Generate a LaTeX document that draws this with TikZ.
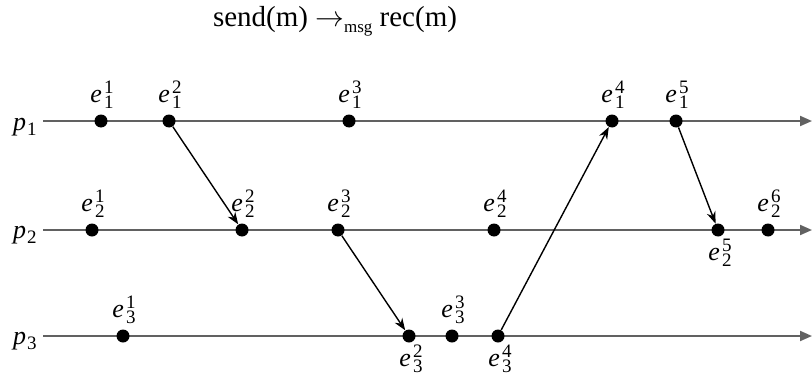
\documentclass[tikz,border=0pt]{standalone}
\usepackage{fontspec}
\setmainfont{Liberation Serif}
\usetikzlibrary{arrows.meta}

% event label e^k_i, scripts stacked after the e
\newcommand{\scr}{\fontsize{9.5}{10}\selectfont}
\newcommand{\ev}[2]{\textit{e}\kern1.2pt\rlap{\raisebox{4.5pt}{\scr #2}}\raisebox{-3pt}{\scr #1}}
\newcommand{\proclbl}[1]{\textit{p}\kern0.5pt\raisebox{-2.5pt}{\scr #1}}

\begin{document}
\begin{tikzpicture}[
  x=0.5pt, y=-0.5pt,
  font=\fontsize{13}{15}\selectfont,
  event/.style={
    circle, fill=black, inner sep=0pt, minimum size=6.5pt,
    label distance=3pt
  },
  every label/.style={inner sep=0pt, font=\fontsize{13}{15}\selectfont},
  up/.style={label={[xshift=0.5pt, yshift=2.5pt]above:#1}},
  down/.style={label={[xshift=1pt, yshift=-1pt]below:#1}},
  proc/.style={draw=black!62, line width=1pt, -{Triangle[length=6pt,width=5pt]}},
  msg/.style={draw=black, line width=0.7pt, -{Stealth[length=6pt,width=4.5pt]}},
  plabel/.style={anchor=east, inner sep=3pt},
]
\useasboundingbox (0,0) rectangle (812,385);

% Headline
\node[anchor=base, font=\fontsize{14.5}{17}\selectfont] (title) at (335,27)
  {send(m) $\rightarrow$\raisebox{-3pt}{\fontsize{8.5}{9}\selectfont msg} rec(m)};

% Processes
\node[plabel] (p1) at (43,127) {\proclbl{1}};
\node[plabel] (p2) at (43,235) {\proclbl{2}};
\node[plabel] (p3) at (43,341) {\proclbl{3}};
\coordinate (end1) at (812,121);
\coordinate (end2) at (812,230);
\coordinate (end3) at (812,336);
\draw[proc] (p1.east |- end1) -- (end1);
\draw[proc] (p2.east |- end2) -- (end2);
\draw[proc] (p3.east |- end3) -- (end3);

% Events on p1
\node[event, up=\ev{1}{1}] (e11) at (101,121) {};
\node[event, up=\ev{1}{2}] (e12) at (169,121) {};
\node[event, up=\ev{1}{3}] (e13) at (349,121) {};
\node[event, up=\ev{1}{4}] (e14) at (612,121) {};
\node[event, up=\ev{1}{5}] (e15) at (676,121) {};

% Events on p2
\node[event, up=\ev{2}{1}] (e21) at (92,230) {};
\node[event, up=\ev{2}{2}] (e22) at (242,230) {};
\node[event, up=\ev{2}{3}] (e23) at (338,230) {};
\node[event, up=\ev{2}{4}] (e24) at (494,230) {};
\node[event, down=\ev{2}{5}] (e25) at (718,230) {};
\node[event, up=\ev{2}{6}] (e26) at (768,230) {};

% Events on p3
\node[event, up=\ev{3}{1}] (e31) at (123,336) {};
\node[event, down=\ev{3}{2}] (e32) at (409,336) {};
\node[event, up=\ev{3}{3}] (e33) at (452,336) {};
\node[event, down=\ev{3}{4}] (e34) at (498,336) {};

% Messages
\draw[msg] (e12) -- (e22);
\draw[msg] (e23) -- (e32);
\draw[msg] (e34) -- (e14);
\draw[msg] (e15) -- (e25);

\end{tikzpicture}
\end{document}
